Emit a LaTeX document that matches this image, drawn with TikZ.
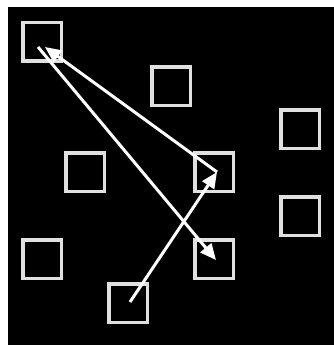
\documentclass[tikz,border=0pt]{standalone}
\usetikzlibrary{arrows.meta}
\begin{document}
\begin{tikzpicture}[x=1pt,y=-1pt,
  sq/.style={draw=white!88!black, line width=3.5pt, minimum size=38.5pt, inner sep=0pt, fill=none},
  arr/.style={draw=white, line width=3pt, -{Triangle[length=16pt,width=14pt]}}]
\useasboundingbox (0,0) rectangle (334,345);
\fill[white] (0,0) rectangle (334,345);
\fill[black] (8,7) rectangle (334,345);
\node[sq] (s1) at (42,42) {};
\node[sq] (s2) at (171,86) {};
\node[sq] (s3) at (300,129) {};
\node[sq] (s4) at (85,172) {};
\node[sq] (s5) at (214,172) {};
\node[sq] (s6) at (300,216) {};
\node[sq] (s7) at (42,259) {};
\node[sq] (s8) at (214,259) {};
\node[sq] (s9) at (128,303) {};
\draw[arr] ([shift={(-4,5)}]s1.center) -- ([shift={(2,1)}]s8.center);
\draw[arr] ([shift={(3,0)}]s5.center) -- ([shift={(3,5)}]s1.center);
\draw[arr] ([shift={(2,-1)}]s9.center) -- ([shift={(3,0)}]s5.center);
\end{tikzpicture}
\end{document}
